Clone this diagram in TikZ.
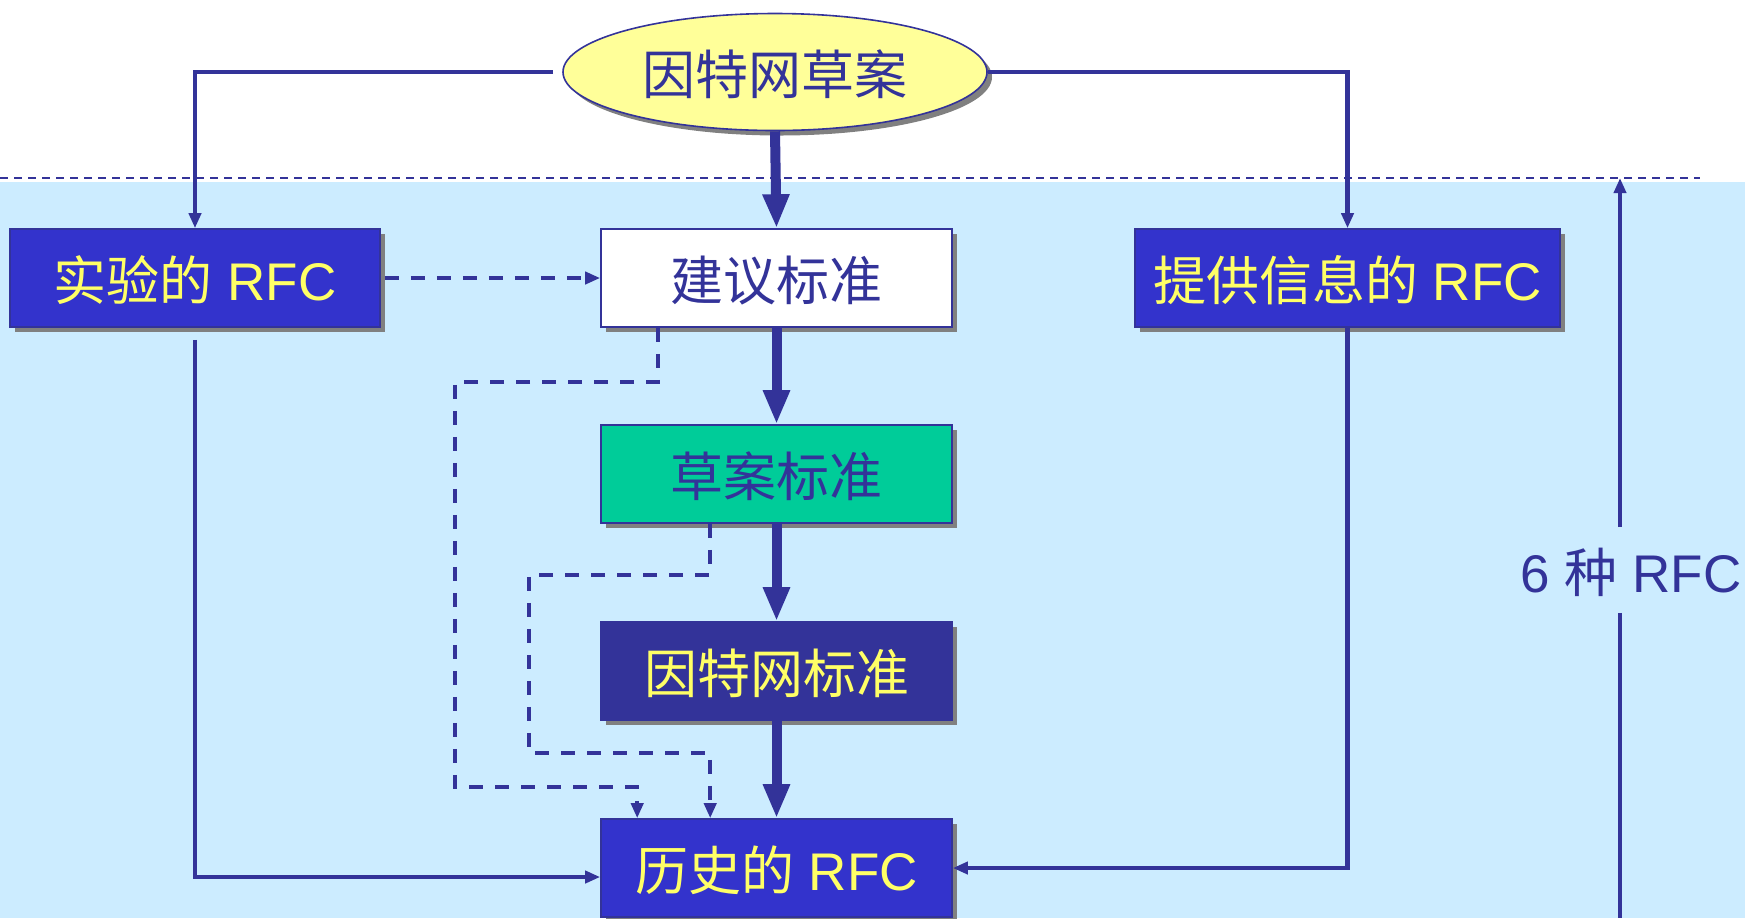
\documentclass[tikz,border=0pt]{standalone}
\usepackage{fontspec}
\setmainfont{Liberation Sans}
\newfontfamily\cjk{Noto Sans CJK SC}
\usetikzlibrary{shapes.geometric,arrows.meta,shadows,calc}
\definecolor{navy}{RGB}{51,51,153}
\definecolor{royal}{RGB}{51,51,204}
\definecolor{sky}{RGB}{204,236,255}
\definecolor{lemon}{RGB}{255,255,102}
\definecolor{cream}{RGB}{255,255,153}
\definecolor{mint}{RGB}{0,204,153}

\begin{document}
\begin{tikzpicture}[x=0.5pt,y=-0.5pt,
  shade/.style={drop shadow={shadow xshift=2.5pt,shadow yshift=-2.5pt,fill=black!50,opacity=1}},
  label text/.style={font=\fontsize{26.5}{30}\selectfont,text height=23pt,text depth=1pt},
  box/.style={shade,label text,draw=navy,line width=0.8pt,minimum width=175.5pt,minimum height=49pt,
    inner sep=0pt},
  mainflow/.style={navy,line width=5pt,-{Triangle[length=17pt,width=12.5pt]}},
  sideflow/.style={navy,line width=2.2pt,-{Triangle[length=7.5pt,width=6pt]}},
  dashflow/.style={sideflow,dash pattern=on 7pt off 6pt}]
  \useasboundingbox (0,0) rectangle (1745,918);
  \fill[sky] (0,182) rectangle (1745,918);
  \draw[navy,line width=0.8pt,dash pattern=on 4pt off 3pt] (0,178) -- (1700,178);

  % nodes
  \node[ellipse,shade,label text,draw=navy,line width=0.8pt,fill=cream,text=navy,inner sep=0pt,
    minimum width=212pt,minimum height=58.5pt] (draft) at (775,72) {\cjk 因特网草案};
  \node[box,fill=royal,text=lemon,minimum width=185pt] (exp) at (195,278) {{\cjk 实验的} RFC};
  \node[box,fill=white,text=navy] (prop) at (776.5,278) {\cjk 建议标准};
  \node[box,fill=royal,text=lemon,minimum width=212.5pt] (info) at (1347.5,278) {{\cjk 提供信息的} RFC};
  \node[box,fill=mint,text=navy] (dstd) at (776.5,474) {\cjk 草案标准};
  \node[box,fill=navy,text=lemon] (istd) at (776.5,671) {\cjk 因特网标准};
  \node[box,fill=royal,text=lemon] (hist) at (776.5,868) {{\cjk 历史的} RFC};
  \node[label text,text=navy,inner sep=0pt,minimum height=42.5pt]
    (kinds) at (1631,570) {6 {\cjk 种} RFC};
  \coordinate (kindtop) at (1620,178);
  \coordinate (kindbot) at (1620,918);

  % main track
  \draw[mainflow] (draft.south) -- (prop.north);
  \draw[mainflow] (prop.south) -- (dstd.north);
  \draw[mainflow] (dstd.south) -- (istd.north);
  \draw[mainflow] (istd.south) -- (hist.north);

  % side tracks
  \draw[sideflow] ($(draft.west)+(-9,0)$) -| (exp.north);
  \draw[sideflow] (draft.east) -| (info.north);
  \draw[dashflow] ($(exp.east)+(4,0)$) -- (prop.west);
  \draw[sideflow] ($(exp.south)+(0,12)$) |- ($(hist.west)+(0,9)$);
  \draw[sideflow] (info.south) |- (hist.east);
  \draw[dashflow] ($(prop.south west)+(58,0)$) -- ++(0,54) -- ++(-203,0) -- ++(0,405)
    -| ($(hist.north west)+(37,0)$);
  \draw[dashflow] ($(dstd.south west)+(110,0)$) -- ++(0,51) -- ++(-181,0) -- ++(0,178)
    -| ($(hist.north west)+(110,0)$);

  % count of kinds
  \draw[sideflow] (kinds.north -| kindtop) -- (kindtop);
  \draw[navy,line width=2.2pt] (kinds.south -| kindbot) -- (kindbot);
\end{tikzpicture}
\end{document}
